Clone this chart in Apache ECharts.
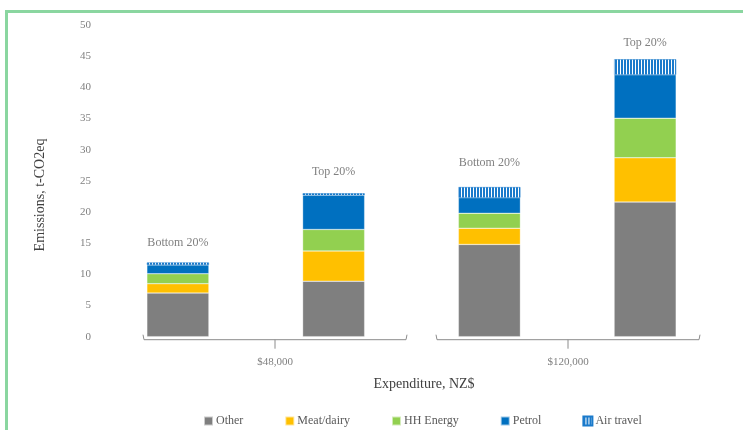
<!DOCTYPE html>
<html><head><meta charset="utf-8">
<script src="https://cdn.jsdelivr.net/npm/echarts@6/dist/echarts.min.js"></script>
<style>html,body{margin:0;padding:0;background:#fff}#c{width:743px;height:430px}</style>
</head><body><div id="c"></div>
<script>
// ---- data ----
const groups = ['$48,000', '$120,000'];
const quintiles = ['Bottom 20%', 'Top 20%', 'Bottom 20%', 'Top 20%'];
const groupOf = [0, 0, 1, 1];
const seriesNames = ['Other', 'Meat/dairy', 'HH Energy', 'Petrol', 'Air travel'];
const other     = [7.0, 8.9, 14.8, 21.6];
const meatDairy = [1.5, 4.85, 2.6, 7.1];
const hhEnergy  = [1.6, 3.45, 2.4, 6.35];
const petrol    = [1.4, 5.5, 2.5, 6.95];
const airTravel = [0.4, 0.3, 1.7, 2.5];
const yMin = 0, yMax = 50, yStep = 5;

// ---- styling ----
const FONT = '"Liberation Serif", "DejaVu Serif", serif';
const colors = ['#7f7f7f', '#ffc000', '#92d050', '#0070c0'];
const labelDist = [13.5, 15.5, 18.5, 10.5];

function stripePattern() {
  const cv = document.createElement('canvas');
  cv.width = 3; cv.height = 4;
  const ctx = cv.getContext('2d');
  ctx.fillStyle = '#ffffff'; ctx.fillRect(0, 0, 3, 4);
  ctx.fillStyle = '#1a7acb'; ctx.fillRect(0, 0, 2, 4);
  return { image: cv, repeat: 'repeat' };
}

const cats = quintiles.map((q, i) => groups[groupOf[i]] + ' ' + q);
const values = [other, meatDairy, hhEnergy, petrol, airTravel];

const chart = echarts.init(document.getElementById('c'), null, { renderer: 'canvas' });

const series = seriesNames.map((name, si) => {
  const s = {
    name, type: 'bar', stack: 'total', barWidth: 62,
    itemStyle: { color: si < 4 ? colors[si] : stripePattern(), borderColor: 'rgba(255,255,255,0.6)', borderWidth: 0.5 },
    data: values[si].slice()
  };
  if (si === 4) {
    s.itemStyle.borderColor = '#1a7acb';
    s.itemStyle.borderWidth = 0.5;
    s.data = values[si].map((v, i) => ({
      value: v,
      label: { show: true, position: 'top', distance: labelDist[i], formatter: quintiles[i] }
    }));
    s.label = { fontFamily: FONT, fontSize: 12, lineHeight: 12, color: '#808080' };
  }
  return s;
});

chart.setOption({
  animation: false,
  textStyle: { fontFamily: FONT },
  grid: { left: 100, right: 20, top: 25, bottom: 93.3 },
  xAxis: {
    type: 'category', data: cats,
    axisLine: { show: false }, axisTick: { show: false }, axisLabel: { show: false }
  },
  yAxis: {
    type: 'value', min: yMin, max: yMax, interval: yStep,
    axisLine: { show: false }, axisTick: { show: false }, splitLine: { show: false },
    axisLabel: { fontFamily: FONT, fontSize: 11, color: '#808080', margin: 9 }
  },
  legend: {
    left: 203, top: 415, padding: 0, itemWidth: 9, itemHeight: 9, itemGap: 41,
    icon: 'rect',
    textStyle: { fontFamily: FONT, fontSize: 12, color: '#595959', padding: [0, 0, 0, -2] },
    data: seriesNames
  },
  series
});

const y0 = chart.convertToPixel({ yAxisIndex: 0 }, 0);
const lineColor = '#8c8c8c';
const brackets = [[143, 407], [436, 700]];
const graphic = [
  { type: 'line', shape: { x1: 6.5, y1: 10, x2: 6.5, y2: 430 }, style: { stroke: '#8ad6a0', lineWidth: 3 } },
  { type: 'line', shape: { x1: 5, y1: 11.5, x2: 743, y2: 11.5 }, style: { stroke: '#8ad6a0', lineWidth: 3 } },
  { type: 'text', x: 40, y: 195, rotation: Math.PI / 2,
    style: { text: 'Emissions, t-CO2eq', font: '14px ' + FONT, fill: '#404040', align: 'center', verticalAlign: 'middle' } },
  { type: 'text', x: 424, y: 384,
    style: { text: 'Expenditure, NZ$', font: '14px ' + FONT, fill: '#404040', align: 'center', verticalAlign: 'middle' } }
];
brackets.forEach((b, gi) => {
  const yl = y0 + 3;
  const mid = (b[0] + b[1]) / 2;
  graphic.push({ type: 'polyline', shape: { points: [[b[0], yl - 5], [b[0] + 1, yl], [b[1] - 1, yl], [b[1], yl - 5]] },
    style: { stroke: lineColor, lineWidth: 1, fill: null } });
  graphic.push({ type: 'line', shape: { x1: mid, y1: yl, x2: mid, y2: yl + 9 }, style: { stroke: lineColor, lineWidth: 1 } });
  graphic.push({ type: 'text', x: mid, y: yl + 22,
    style: { text: groups[gi], font: '11px ' + FONT, fill: '#808080', align: 'center', verticalAlign: 'middle' } });
});
chart.setOption({ graphic });
</script>
</body></html>
